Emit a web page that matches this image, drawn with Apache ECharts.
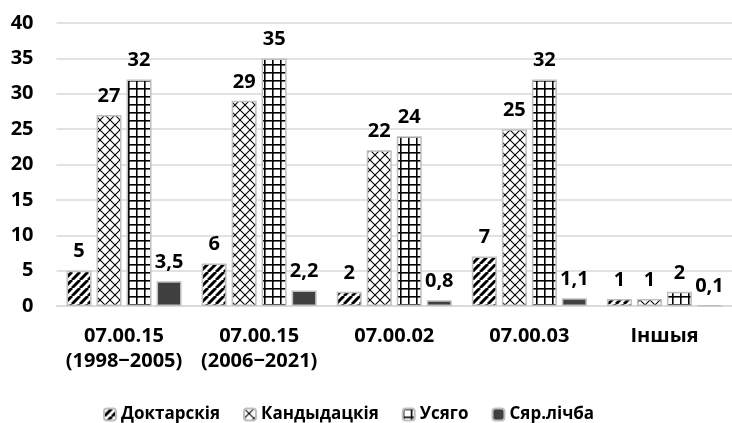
<!DOCTYPE html>
<html><head><meta charset="utf-8">
<script src="https://cdn.jsdelivr.net/npm/echarts@6/dist/echarts.min.js"></script>
<style>html,body{margin:0;padding:0;background:#fff}#c{width:732px;height:423px}</style>
</head><body><div id="c"></div>
<script>
const categories = ['07.00.15\n(1998\u22122005)', '07.00.15\n(2006\u22122021)', '07.00.02', '07.00.03', 'Іншыя'];
const seriesNames = ['Доктарскія', 'Кандыдацкія', 'Усяго', 'Сяр.лічба'];
const doctoral = [5, 6, 2, 7, 1];
const candidate = [27, 29, 22, 25, 1];
const total = [32, 35, 24, 32, 2];
const average = [3.5, 2.2, 0.8, 1.1, 0.1];
const yTicks = [0, 5, 10, 15, 20, 25, 30, 35, 40];

function tile(size, draw) {
  const c = document.createElement('canvas');
  c.width = size; c.height = size;
  const g = c.getContext('2d');
  g.fillStyle = '#fff'; g.fillRect(0, 0, size, size);
  g.strokeStyle = '#000';
  draw(g, size);
  return c;
}
const stripes = tile(8, (g, s) => {
  g.lineWidth = 3;
  for (let k = -1; k <= 1; k++) { g.beginPath(); g.moveTo(k * s, s); g.lineTo(k * s + s, 0); g.stroke(); }
});
const diamonds = tile(10, (g, s) => {
  g.lineWidth = 1.1;
  for (let k = -1; k <= 1; k++) {
    g.beginPath(); g.moveTo(k * s, s); g.lineTo(k * s + s, 0); g.stroke();
    g.beginPath(); g.moveTo(k * s, 0); g.lineTo(k * s + s, s); g.stroke();
  }
});
const gridTile = tile(8, (g, s) => {
  g.lineWidth = 1.6;
  g.beginPath(); g.moveTo(0.8, 0); g.lineTo(0.8, s); g.stroke();
  g.beginPath(); g.moveTo(0, 0.8); g.lineTo(s, 0.8); g.stroke();
});

const font = '"Open Sans", "Noto Sans", sans-serif';
const fills = [
  { image: stripes, repeat: 'repeat' },
  { image: diamonds, repeat: 'repeat' },
  { image: gridTile, repeat: 'repeat' },
  '#404040'
];
const values = [doctoral, candidate, total, average];

const chart = echarts.init(document.getElementById('c'), null, { renderer: 'canvas' });
chart.setOption({
  animation: false,
  textStyle: { fontFamily: font },
  grid: { left: 56.5, right: -5, top: 23, bottom: 117, containLabel: false },
  legend: {
    top: 401, left: 98, itemWidth: 12, itemHeight: 12, itemGap: 23,
    textStyle: { fontFamily: font, fontWeight: 'bold', fontSize: 17, color: '#000' },
    data: seriesNames
  },
  xAxis: {
    type: 'category', data: categories,
    axisLine: { lineStyle: { color: '#d9d9d9', width: 1.5 } },
    axisTick: { show: false },
    axisLabel: { interval: 0, hideOverlap: false, margin: 18, fontFamily: font, fontWeight: 'bold', fontSize: 20, color: '#000', lineHeight: 25 }
  },
  yAxis: {
    type: 'value', min: yTicks[0], max: yTicks[yTicks.length - 1], interval: 5,
    axisLine: { show: false }, axisTick: { show: false },
    splitLine: { lineStyle: { color: '#d9d9d9', width: 1.5 } },
    axisLabel: { margin: 23, fontFamily: font, fontWeight: 'bold', fontSize: 20, color: '#000' }
  },
  series: seriesNames.map((n, i) => ({
    name: n, type: 'bar', data: values[i], barWidth: 25, barGap: '20%',
    itemStyle: { color: fills[i], borderColor: '#bfbfbf', borderWidth: 1.5 },
    label: {
      show: true, position: 'top', distance: 9,
      fontFamily: font, fontWeight: 'bold', fontSize: 20, color: '#000',
      formatter: p => String(p.value).replace('.', ',')
    }
  }))
});
</script></body></html>
